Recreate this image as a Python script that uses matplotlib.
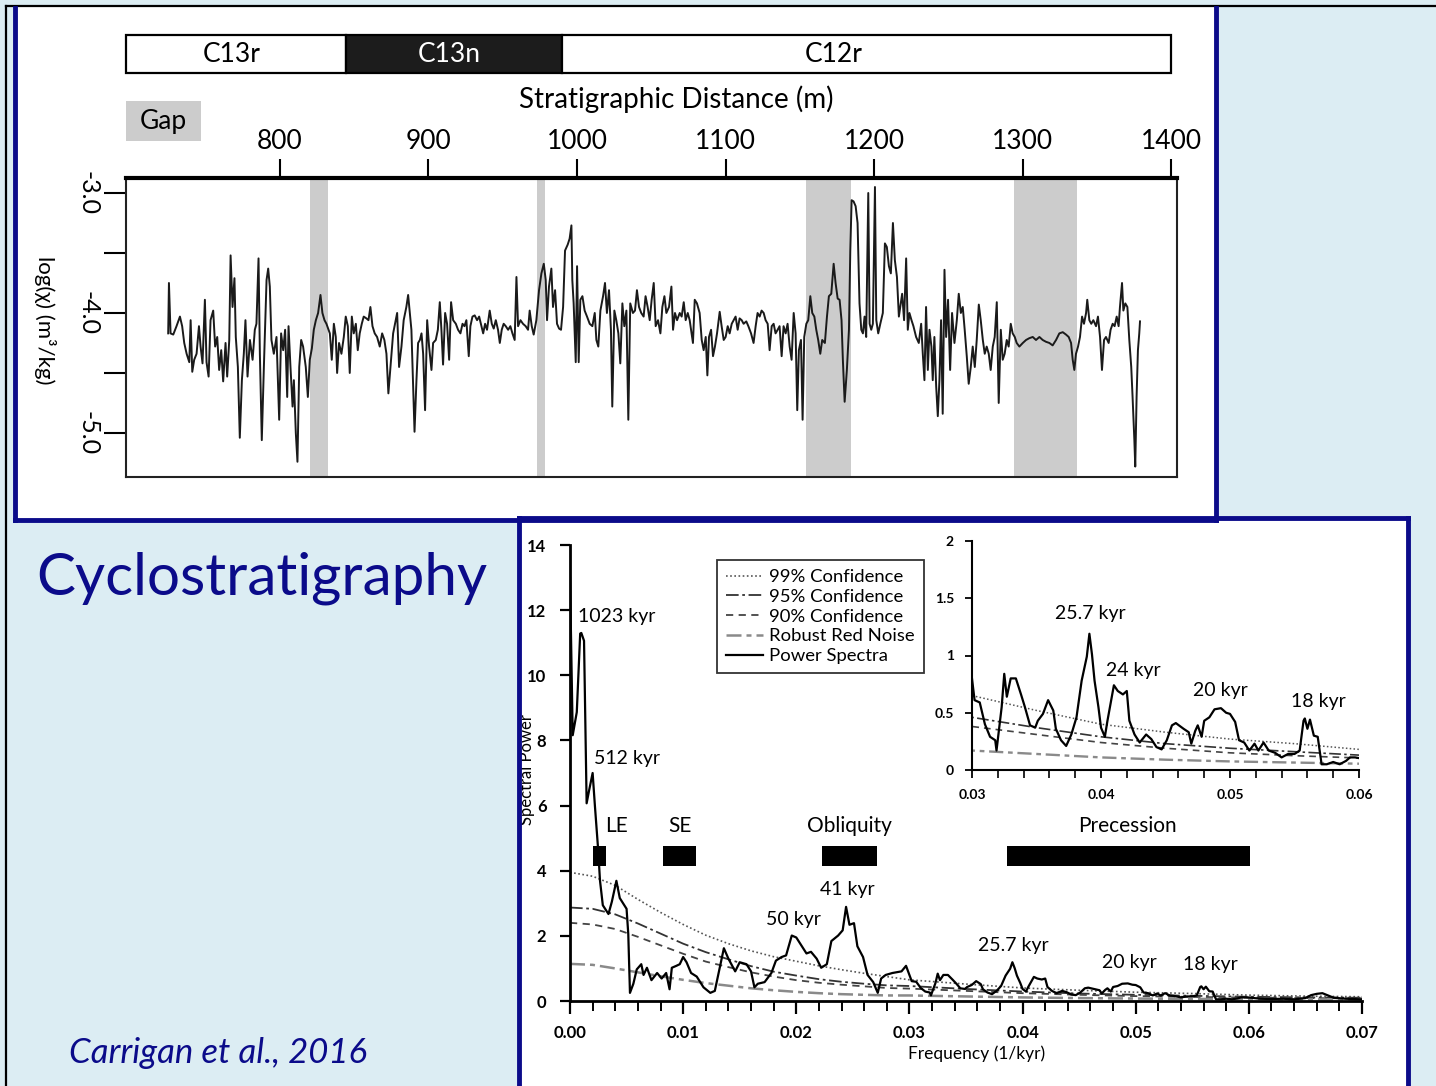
import numpy as np
import matplotlib
matplotlib.use("Agg")
import matplotlib.pyplot as plt
from matplotlib.patches import Rectangle
from matplotlib.lines import Line2D

plt.rcParams['font.family'] = ['Lato', 'DejaVu Sans']

# ---- top panel: magnetic susceptibility vs stratigraphic distance ----
depth_m = [
    724.8, 725.3, 726.4, 728.2, 730.4, 732.7, 734.2, 735.6, 737.2, 739.0,
    739.9, 741.0, 742.3, 743.9, 745.5, 746.6, 747.9, 749.5, 750.6, 752.0,
    753.3, 755.1, 756.4, 757.8, 759.1, 760.5, 761.8, 763.4, 764.5, 765.9,
    766.8, 768.1, 769.4, 770.3, 771.7, 773.0, 774.4, 775.7, 776.8, 778.2,
    779.8, 781.6, 783.1, 784.2, 785.6, 786.5, 787.8, 789.2, 791.0, 792.1,
    793.2, 794.3, 795.9, 797.7, 799.5, 800.8, 802.2, 803.5, 804.9, 805.8,
    807.1, 808.5, 809.4, 810.7, 811.8, 813.0, 814.3, 815.6, 817.4, 818.8,
    820.1, 821.5, 822.8, 824.2, 825.7, 827.3, 828.6, 830.0, 831.3, 833.6,
    834.9, 836.3, 837.6, 838.5, 839.8, 841.4, 843.0, 844.3, 845.7, 847.0,
    848.4, 849.7, 851.1, 852.4, 853.7, 855.1, 856.4, 858.2, 859.6, 860.9,
    862.3, 863.8, 865.4, 867.2, 868.8, 870.3, 871.7, 873.0, 874.4, 876.2,
    877.5, 878.9, 880.2, 881.8, 883.3, 885.1, 886.3,
    888.5, 889.7, 890.6, 891.9, 893.0, 894.2, 895.3, 896.4, 897.7, 899.1,
    900.4, 902.0, 903.1, 904.9, 906.3, 907.6, 908.7, 909.8, 911.2, 912.5,
    913.9, 915.2, 916.6, 918.4, 919.9, 921.5, 922.9, 924.2, 925.5, 927.1,
    928.2, 929.6, 931.1, 932.7, 934.1, 935.6, 936.8, 938.1, 939.4, 941.2,
    942.6, 943.9, 945.3, 946.8, 948.0, 949.3, 950.6, 952.0, 953.6, 955.1,
    956.5, 958.0, 959.2, 960.3, 961.9, 963.6, 965.4, 967.0, 968.1, 969.5,
    970.8, 972.6, 974.4, 976.0, 977.6, 978.9, 979.8, 981.1, 982.7, 983.8,
    985.2, 986.5, 987.9, 989.2, 990.6, 991.9, 993.7, 995.0, 996.2, 996.8,
    997.7, 999.1, 1000.0, 1001.1, 1002.2, 1003.6, 1005.1, 1006.7, 1008.5, 1010.3,
    1011.9, 1013.0, 1014.3, 1015.7, 1017.5, 1018.8, 1020.1, 1021.5, 1022.8, 1023.7,
    1025.1, 1026.4, 1027.8, 1029.1, 1030.5, 1031.8, 1033.2, 1034.5, 1035.8, 1037.6,
    1039.0, 1040.3, 1041.7, 1043.2, 1044.8, 1046.1, 1047.5,
    1048.9, 1050.2, 1051.6, 1052.9, 1054.5, 1056.1, 1057.4, 1058.8, 1060.1, 1061.9,
    1063.5, 1064.6, 1065.9, 1067.3, 1069.1, 1070.4, 1071.8, 1073.1, 1074.5, 1075.8,
    1077.1, 1078.0, 1079.2, 1080.7, 1082.5, 1083.9, 1085.2, 1086.6, 1087.7, 1088.8,
    1090.2, 1091.5, 1092.8, 1094.2, 1096.0, 1097.3, 1098.7, 1100.0, 1101.4, 1102.7,
    1104.1, 1105.4, 1106.7, 1108.1, 1109.4, 1110.8, 1112.1, 1113.9, 1115.3, 1117.1,
    1118.8, 1120.2, 1121.5, 1122.9, 1124.2, 1125.6, 1126.9, 1128.3, 1129.6, 1131.0,
    1132.3, 1133.6, 1135.0, 1136.3, 1137.7, 1139.0, 1140.4, 1141.7, 1143.1, 1144.4,
    1145.8, 1147.1, 1148.2, 1149.3, 1150.7, 1151.8, 1152.9, 1154.3, 1155.6, 1157.0,
    1158.3, 1159.7, 1161.0, 1162.3, 1163.7, 1165.0, 1166.8, 1168.2, 1169.5, 1171.1,
    1172.7, 1174.0, 1175.4, 1176.7, 1178.0, 1178.9, 1180.1, 1181.6, 1183.0, 1183.9,
    1184.8, 1186.1, 1187.5, 1188.8, 1190.1, 1191.3, 1192.4, 1193.5, 1194.6, 1196.0,
    1196.9, 1198.0, 1199.1, 1200.5, 1201.4, 1202.7, 1204.1, 1205.8, 1207.2, 1208.5,
    1209.9, 1211.2, 1212.6, 1213.9, 1215.3, 1216.6,
    1218.8, 1220.1, 1221.5, 1222.6, 1223.7, 1225.1, 1226.4, 1228.2, 1230.0, 1231.6,
    1232.7, 1233.8, 1234.9, 1236.1, 1237.2, 1238.5, 1239.4, 1240.5, 1241.7, 1242.8,
    1243.9, 1245.0, 1246.1, 1247.3, 1248.4, 1249.7, 1251.1, 1252.4, 1254.0, 1255.6,
    1256.9, 1258.3, 1259.6, 1260.9, 1262.3, 1263.6, 1265.0, 1266.3, 1267.7, 1269.0,
    1270.4, 1271.7, 1273.1, 1274.4, 1275.7, 1277.1, 1278.4, 1279.8, 1281.1, 1282.5,
    1283.8, 1285.2, 1286.5, 1287.8, 1289.2, 1290.5, 1291.9, 1293.2, 1294.6, 1295.9,
    1297.7, 1300.0, 1302.2, 1304.4, 1306.7, 1308.9, 1311.2, 1313.4, 1315.6, 1317.9,
    1320.1, 1322.4, 1324.6, 1326.9, 1329.1, 1330.9, 1332.5, 1333.6, 1334.7, 1335.8,
    1337.2, 1338.5, 1339.9, 1341.2, 1342.6, 1343.4, 1344.8, 1346.1, 1347.5, 1349.3,
    1350.6, 1352.0, 1353.3, 1354.7, 1356.0, 1357.8, 1359.1, 1360.5, 1361.8, 1363.2,
    1364.5, 1365.4, 1366.8, 1367.7, 1369.0, 1370.4, 1371.7, 1373.0, 1373.9, 1375.1,
    1375.7, 1376.6, 1377.5, 1378.4, 1378.9,
]
log_chi = [
    -4.17, -3.75, -4.17, -4.18, -4.11, -4.03, -4.11, -4.25, -4.34, -4.41,
    -4.06, -4.49, -4.39, -4.34, -4.11, -4.28, -4.42, -3.89, -4.41, -4.53,
    -4.06, -3.98, -4.28, -4.20, -4.475, -4.31, -4.57, -4.25, -4.53, -4.225,
    -3.52, -3.95, -3.71, -4.20, -4.45, -5.04, -4.56, -4.34, -4.06, -4.53,
    -4.225, -4.39, -4.14, -4.09, -3.545, -4.34, -5.06, -4.45, -3.725, -3.63,
    -3.78, -4.225, -4.34, -4.20, -4.89, -4.17, -4.31, -4.14, -4.70, -4.11,
    -4.45, -4.78, -4.56, -5.00, -5.24, -4.45, -4.225, -4.28, -4.45, -4.70,
    -4.39, -4.295, -4.14, -4.06, -4.00, -3.85, -4.00, -4.06, -4.09, -4.17,
    -4.39, -4.09, -4.20, -4.50, -4.25, -4.34, -4.20, -4.03, -4.11, -4.50,
    -4.03, -4.17, -4.09, -4.31, -4.17, -4.09, -4.03, -4.045, -4.06, -3.95,
    -4.11, -4.17, -4.20, -4.28, -4.17, -4.225, -4.34, -4.67, -4.45, -4.17,
    -4.09, -4.00, -4.45, -4.28, -4.06, -3.95, -3.85,
    -4.14, -4.61, -4.99, -4.56, -4.25, -4.225, -4.17, -4.34, -4.81, -4.06,
    -4.28, -4.475, -4.25, -4.225, -4.14, -3.91, -4.14, -4.43, -4.00, -4.09,
    -4.39, -3.91, -4.06, -4.09, -4.14, -4.17, -4.09, -4.11, -4.06, -4.36,
    -4.11, -4.03, -4.02, -4.06, -4.03, -4.11, -4.17, -4.09, -4.14, -3.98,
    -4.09, -4.13, -4.06, -4.14, -4.25, -4.14, -4.09, -4.11, -4.14, -4.11,
    -4.17, -4.225, -3.70, -4.11, -4.06, -4.09, -4.11, -4.14, -3.98, -4.11,
    -4.18, -4.06, -3.81, -3.67, -3.59, -3.725, -4.06, -3.78, -3.63, -3.95,
    -3.81, -4.09, -4.13, -4.14, -3.95, -3.48, -3.43, -3.38, -3.27, -3.725,
    -3.92, -4.41, -3.61, -4.41, -3.89, -3.86, -3.98, -4.03, -4.09, -4.11,
    -4.00, -4.225, -4.28, -3.98, -3.86, -3.75, -4.00, -3.81, -4.14, -4.78,
    -3.98, -4.06, -4.17, -4.42, -3.92, -4.11, -3.98, -4.89, -3.92, -4.00,
    -3.98, -3.81, -3.95, -4.00, -4.03, -3.86, -3.95,
    -4.06, -3.89, -3.75, -4.11, -4.06, -4.17, -3.95, -3.86, -4.00, -3.95,
    -3.78, -4.14, -4.00, -4.06, -4.00, -4.03, -3.91, -4.06, -4.00, -4.06,
    -4.17, -4.25, -3.89, -3.92, -4.00, -4.225, -4.31, -4.20, -4.52, -4.20,
    -4.14, -4.36, -4.28, -4.17, -3.99, -4.11, -4.225, -4.20, -4.11, -4.17,
    -4.09, -4.06, -4.03, -4.14, -4.045, -4.06, -4.09, -4.07, -4.11, -4.17,
    -4.25, -4.11, -4.00, -4.03, -3.98, -4.00, -4.06, -4.09, -4.31, -4.11,
    -4.09, -4.17, -4.14, -4.11, -4.36, -4.11, -4.17, -4.09, -4.28, -4.39,
    -4.00, -4.17, -4.81, -4.31, -4.225, -4.89, -4.20, -4.09, -4.06, -3.86,
    -4.00, -4.03, -4.14, -4.225, -4.34, -4.225, -4.25, -4.03, -3.86, -3.84,
    -3.59, -3.75, -3.88, -3.89, -4.06, -4.39, -4.74, -4.475, -4.14, -3.48,
    -3.06, -3.07, -3.11, -3.25, -3.92, -4.14, -4.17, -4.03, -4.20, -3.00,
    -4.09, -4.14, -4.09, -2.95, -4.06, -4.17, -4.09, -4.00, -3.42, -3.45,
    -3.61, -3.67, -3.25, -3.56, -3.70, -4.03,
    -3.84, -4.06, -3.545, -4.14, -4.00, -4.06, -4.11, -4.20, -4.25, -4.09,
    -4.34, -4.56, -3.95, -4.475, -4.14, -4.28, -4.56, -4.20, -4.61, -4.86,
    -4.56, -4.06, -4.84, -3.64, -4.20, -3.89, -4.475, -4.00, -4.25, -4.06,
    -3.84, -4.00, -3.95, -4.14, -4.36, -4.59, -4.45, -4.28, -4.45, -4.225,
    -3.93, -4.06, -4.225, -4.34, -4.28, -4.34, -4.475, -4.28, -4.20, -3.91,
    -4.75, -4.14, -4.39, -4.34, -4.225, -4.28, -4.09, -4.17, -4.20, -4.25,
    -4.28, -4.25, -4.225, -4.21, -4.20, -4.225, -4.20, -4.225, -4.24, -4.25,
    -4.27, -4.225, -4.17, -4.16, -4.18, -4.20, -4.25, -4.39, -4.475, -4.34,
    -4.28, -4.20, -4.03, -4.09, -4.00, -3.89, -4.06, -4.09, -4.06, -4.11,
    -4.03, -4.20, -4.475, -4.225, -4.20, -4.25, -4.14, -4.09, -4.11, -4.03,
    -4.11, -3.95, -3.75, -3.98, -3.92, -3.95, -4.225, -4.45, -4.70, -5.06,
    -5.28, -4.70, -4.31, -4.17, -4.07,
]

gap_start = [820.1, 972.8, 1154.4, 1294.2]
gap_end = [832.2, 978.2, 1184.6, 1336.6]

chron_names = ['C13r', 'C13n', 'C12r']
chron_start = [696.4, 844.4, 989.7]
chron_end = [844.4, 989.7, 1400.0]
chron_label_x = [767.7, 914.3, 1172.6]
chron_fill = ['white', '#1c1c1c', 'white']
chron_text = ['black', 'white', 'black']

dist_ticks = [800, 900, 1000, 1100, 1200, 1300, 1400]
chi_ticks = [-3.0, -3.5, -4.0, -4.5, -5.0]
chi_labels = ['-3.0', '', '-4.0', '', '-5.0']

# ---- bottom panel: power spectrum ----
spec_freq = [
    0.0000, 0.00024, 0.0006, 0.0009, 0.0010, 0.00124, 0.00132, 0.00147, 0.00168, 0.0020,
    0.0022, 0.0025, 0.00265, 0.0029, 0.0034, 0.0037, 0.0041, 0.0044, 0.0049, 0.0050,
    0.00515, 0.0053, 0.0056, 0.0059, 0.0063, 0.0065, 0.0068, 0.0072, 0.0077, 0.0081,
    0.0085, 0.0088, 0.0090, 0.0094, 0.0097, 0.0100, 0.0103, 0.0107, 0.0112, 0.0118,
    0.0124, 0.0128, 0.0132, 0.0136, 0.0140, 0.0146, 0.0150, 0.0156, 0.0160, 0.0163,
    0.0166, 0.0172, 0.0178, 0.0182, 0.0187, 0.0191, 0.0196, 0.0200, 0.0205, 0.0209,
    0.0213, 0.0218, 0.0222, 0.0227, 0.0231, 0.0237, 0.0241, 0.0244, 0.0247, 0.0251,
    0.0254, 0.0259, 0.0263, 0.0268, 0.0272, 0.0275, 0.0279, 0.0285, 0.0293, 0.0297,
    0.0300, 0.0302, 0.0306, 0.0310, 0.0314, 0.0318, 0.0319, 0.0323, 0.0325, 0.0327,
    0.0330, 0.0334, 0.0338, 0.0341, 0.0345, 0.0349, 0.0351, 0.0355, 0.0359, 0.0363,
    0.0365, 0.0369, 0.0373, 0.0377, 0.0381, 0.0385, 0.0389, 0.0391, 0.0393, 0.0395,
    0.0398, 0.0400, 0.0403, 0.0405, 0.0410, 0.0413, 0.0417, 0.0420, 0.0422, 0.0426,
    0.0430, 0.0435, 0.0439, 0.0443, 0.0447, 0.0451, 0.0455, 0.0458, 0.0464, 0.0468,
    0.0470, 0.0473, 0.0475, 0.0478, 0.0480, 0.0484, 0.0488, 0.0493, 0.0497, 0.0500,
    0.0504, 0.0507, 0.0511, 0.0515, 0.0519, 0.0522, 0.0526, 0.0530, 0.0535, 0.0540,
    0.0545, 0.0550, 0.0554, 0.0557, 0.0558, 0.0560, 0.0562, 0.0565, 0.0568, 0.0571,
    0.0575, 0.0580, 0.0585, 0.0590, 0.0593, 0.0597, 0.0602, 0.0610, 0.0620, 0.0630,
    0.0640, 0.0650, 0.0655, 0.0660, 0.0665, 0.0670, 0.0675, 0.0685, 0.0700,
]
spec_power = [
    13.0, 8.16, 8.87, 11.28, 11.3, 11.06, 9.3, 6.07, 6.45, 7.0,
    6.0, 4.59, 3.7, 2.94, 2.67, 3.05, 3.69, 3.16, 2.89, 2.83,
    2.06, 0.25, 0.53, 0.97, 1.13, 0.8, 1.02, 0.64, 0.86, 0.69,
    0.86, 0.36, 1.02, 1.08, 1.13, 1.35, 1.19, 0.86, 0.75, 0.42,
    0.25, 0.31, 0.97, 1.62, 1.3, 0.91, 1.19, 1.13, 0.91, 0.42,
    0.53, 0.58, 0.86, 1.24, 1.35, 1.4, 2.01, 1.95, 1.68, 1.46,
    1.51, 1.3, 1.02, 1.13, 1.84, 2.01, 2.17, 2.89, 2.34, 2.39,
    1.68, 1.35, 0.8, 0.58, 0.25, 0.69, 0.8, 0.86, 0.91, 1.08,
    0.80, 0.61, 0.59, 0.40, 0.29, 0.26, 0.17, 0.55, 0.84, 0.64,
    0.80, 0.80, 0.66, 0.55, 0.39, 0.37, 0.43, 0.49, 0.61, 0.52,
    0.36, 0.26, 0.21, 0.31, 0.46, 0.78, 0.99, 1.19, 1.01, 0.78,
    0.55, 0.37, 0.29, 0.43, 0.74, 0.69, 0.66, 0.69, 0.43, 0.31,
    0.24, 0.31, 0.27, 0.20, 0.18, 0.26, 0.39, 0.41, 0.36, 0.33,
    0.23, 0.34, 0.39, 0.29, 0.43, 0.46, 0.53, 0.54, 0.50, 0.49,
    0.42, 0.26, 0.24, 0.17, 0.23, 0.17, 0.24, 0.17, 0.15, 0.11,
    0.14, 0.14, 0.17, 0.43, 0.45, 0.36, 0.44, 0.30, 0.29, 0.05,
    0.05, 0.07, 0.05, 0.08, 0.11, 0.11, 0.10, 0.07, 0.06, 0.07,
    0.05, 0.09, 0.18, 0.22, 0.24, 0.17, 0.10, 0.07, 0.05,
]

conf_freq = [0.000, 0.002, 0.004, 0.006, 0.008, 0.010, 0.012, 0.014, 0.016, 0.018,
             0.020, 0.022, 0.024, 0.026, 0.028, 0.030, 0.035, 0.040, 0.045, 0.050,
             0.055, 0.060, 0.065, 0.070]
conf_99 = [3.95, 3.83, 3.55, 3.12, 2.72, 2.35, 2.02, 1.76, 1.54, 1.36,
           1.22, 1.08, 0.96, 0.85, 0.75, 0.65, 0.52, 0.40, 0.33, 0.27,
           0.23, 0.18, 0.15, 0.13]
conf_95 = [2.87, 2.83, 2.66, 2.38, 2.07, 1.76, 1.50, 1.28, 1.07, 0.90,
           0.78, 0.67, 0.59, 0.53, 0.48, 0.46, 0.37, 0.29, 0.23, 0.19,
           0.16, 0.13, 0.11, 0.10]
conf_90 = [2.40, 2.35, 2.21, 1.97, 1.71, 1.45, 1.21, 1.04, 0.88, 0.75,
           0.64, 0.56, 0.50, 0.45, 0.40, 0.38, 0.31, 0.24, 0.19, 0.15,
           0.125, 0.105, 0.09, 0.08]
red_noise = [1.14, 1.11, 1.00, 0.88, 0.76, 0.65, 0.55, 0.47, 0.39, 0.33,
             0.28, 0.24, 0.21, 0.19, 0.17, 0.17, 0.14, 0.11, 0.09, 0.075,
             0.065, 0.055, 0.05, 0.045]

band_names = ['LE', 'SE', 'Obliquity', 'Precession']
band_lo = [0.00203, 0.00822, 0.02227, 0.03862]
band_hi = [0.00318, 0.01114, 0.02713, 0.06010]
band_label_x = [0.00415, 0.00972, 0.02466, 0.04923]

peak_labels = ['1023 kyr', '512 kyr', '50 kyr', '41 kyr', '25.7 kyr', '20 kyr', '18 kyr']
peak_x = [0.0007, 0.0021, 0.0173, 0.0221, 0.0361, 0.0470, 0.0542]
peak_y = [11.79, 7.43, 2.49, 3.41, 1.69, 1.17, 1.11]

inset_labels = ['25.7 kyr', '24 kyr', '20 kyr', '18 kyr']
inset_x = [0.03643, 0.04039, 0.04713, 0.05473]
inset_y = [1.37, 0.865, 0.69, 0.60]

freq_ticks = [0.00, 0.01, 0.02, 0.03, 0.04, 0.05, 0.06, 0.07]
power_ticks = [0, 2, 4, 6, 8, 10, 12, 14]
inset_xticks = [0.03, 0.04, 0.05, 0.06]
inset_yticks = [0, 0.5, 1, 1.5, 2]
inset_ylabels = ['0', '0.5', '1', '1.5', '2']

# ---- figure / slide layout ----
W, H = 1436, 1086
fig = plt.figure(figsize=(W / 100, H / 100), dpi=100)
fig.patch.set_facecolor('#dcedf3')
navy = '#0b0b8a'


def fx(px):
    return px / W


def fy(py):
    return 1 - py / H


def fig_line(x0, y0, x1, y1, color, lw, z=5):
    fig.add_artist(Line2D([fx(x0), fx(x1)], [fy(y0), fy(y1)], transform=fig.transFigure,
                          color=color, lw=lw, zorder=z, solid_capstyle='projecting'))


def fig_box(x0, y0, x1, y1, color, z=-5):
    fig.add_artist(Rectangle((fx(x0), fy(y1)), fx(x1) - fx(x0), fy(y0) - fy(y1),
                             transform=fig.transFigure, facecolor=color,
                             edgecolor='none', zorder=z))


# white panels
fig_box(15, 7, 1216, 520, 'white')
fig_box(519, 518, 1408, 1090, 'white')
# outer black frame
fig_line(6, 6, 1436, 6, 'black', 1.6)
fig_line(6, 6, 6, 1086, 'black', 1.6)
# navy panel borders
fig_line(15, 8, 15, 520, navy, 3.5)
fig_line(1216, 8, 1216, 520, navy, 3.5)
fig_line(15, 520, 1216, 520, navy, 3.5)
fig_line(519, 518, 1408, 518, navy, 3.5)
fig_line(519, 518, 519, 1086, navy, 3.5)
fig_line(1408, 518, 1408, 1086, navy, 3.5)

fig.text(fx(36), fy(578), 'Cyclostratigraphy', color=navy, fontsize=42,
         ha='left', va='center')
fig.text(fx(69), fy(1053), 'Carrigan et al., 2016', color=navy, fontsize=25,
         style='italic', ha='left', va='center')

# ---- top chart ----
ax = fig.add_axes([fx(126), fy(477), fx(1177) - fx(126), fy(178) - fy(477)])
ax.set_xlim(696.4, 1403.8)
ax.set_ylim(-5.367, -2.875)
for s, e in zip(gap_start, gap_end):
    ax.axvspan(s, e, color='#cccccc', lw=0, zorder=0)
ax.plot(depth_m, log_chi, color='#1a1a1a', lw=1.4, zorder=2)
ax.xaxis.tick_top()
ax.set_xticks(dist_ticks)
ax.tick_params(axis='x', direction='out', length=14, width=1.5, labelsize=19, pad=3)
ax.set_yticks(chi_ticks)
ax.set_yticklabels(chi_labels, rotation=270, va='center')
ax.tick_params(axis='y', direction='out', length=16, width=1.5, labelsize=18, pad=3)
for side in ['left', 'right', 'bottom']:
    ax.spines[side].set_linewidth(1.5)
    ax.spines[side].set_color('#222222')
ax.spines['top'].set_linewidth(3)
fig.text(fx(676), fy(99), 'Stratigraphic Distance (m)', fontsize=20, ha='center', va='center')
fig.text(fx(45), fy(320), 'log(χ) (m³/kg)', fontsize=16, rotation=270,
         ha='center', va='center')

# chron bar
axc = fig.add_axes([fx(126), fy(73), fx(1177) - fx(126), fy(35) - fy(73)])
axc.set_xlim(ax.get_xlim())
axc.set_ylim(0, 1)
axc.axis('off')
for s, e, c in zip(chron_start, chron_end, chron_fill):
    axc.add_patch(Rectangle((s, 0), e - s, 1, facecolor=c, edgecolor='black',
                            lw=1.6, clip_on=False))
for name, lx, tc in zip(chron_names, chron_label_x, chron_text):
    axc.text(lx, 0.5, name, color=tc, fontsize=19, ha='center', va='center')

# gap key
fig_box(126, 101, 201, 141, '#cccccc', z=1)
fig.text(fx(163), fy(121), 'Gap', fontsize=19, ha='center', va='center')

# ---- spectrum ----
axs = fig.add_axes([fx(570), fy(1001), fx(1362) - fx(570), fy(545) - fy(1001)])
axs.patch.set_alpha(0)
axs.set_xlim(0, 0.07)
axs.set_ylim(0, 14)
l99, = axs.plot(conf_freq, conf_99, color='#555555', lw=1.2, ls=(0, (1, 1.5)))
l95, = axs.plot(conf_freq, conf_95, color='#333333', lw=1.3, ls=(0, (7, 2, 1.5, 2)))
l90, = axs.plot(conf_freq, conf_90, color='#444444', lw=1.3, ls=(0, (4, 3)))
lrn, = axs.plot(conf_freq, red_noise, color='#8a8a8a', lw=1.8, ls=(0, (6, 2, 2, 2)))
lps, = axs.plot(spec_freq, spec_power, color='black', lw=1.6)
for lo, hi in zip(band_lo, band_hi):
    axs.broken_barh([(lo, hi - lo)], (4.15, 0.6), facecolor='black', zorder=4)
for name, bx in zip(band_names, band_label_x):
    axs.text(bx, 5.37, name, fontsize=15, ha='center', va='center')
for lab, px_, py_ in zip(peak_labels, peak_x, peak_y):
    axs.text(px_, py_, lab, fontsize=14, ha='left', va='center')
for side in ['top', 'right']:
    axs.spines[side].set_visible(False)
for side in ['left', 'bottom']:
    axs.spines[side].set_linewidth(2)
axs.set_xticks(freq_ticks)
axs.set_xticklabels(['%.2f' % t for t in freq_ticks])
axs.set_xticks(np.arange(0, 0.0701, 0.002), minor=True)
axs.set_yticks(power_ticks)
axs.tick_params(axis='x', which='major', length=9, width=1.6, labelsize=12, pad=8)
axs.tick_params(axis='x', which='minor', length=7, width=1.4)
axs.tick_params(axis='y', length=7, width=1.6, labelsize=12, pad=10)
for t in axs.get_xticklabels() + axs.get_yticklabels():
    t.set_fontweight('bold')
fig.text(fx(977), fy(1054), 'Frequency (1/kyr)', fontsize=12.5, ha='center', va='center')
fig.text(fx(527), fy(770), 'Spectral Power', fontsize=12, rotation=90,
         ha='center', va='center')

leg = axs.legend([l99, l95, l90, lrn, lps],
                 ['99% Confidence', '95% Confidence', '90% Confidence',
                  'Robust Red Noise', 'Power Spectra'],
                 loc='upper left', bbox_to_anchor=(fx(717), fy(560)),
                 bbox_transform=fig.transFigure, frameon=True, fancybox=False,
                 edgecolor='black', fontsize=13.3, handlelength=2.0,
                 handletextpad=0.3, labelspacing=0.2, borderpad=0.5,
                 borderaxespad=0)
leg.get_frame().set_linewidth(1.3)

# ---- inset ----
axi = fig.add_axes([fx(972), fy(770), fx(1359) - fx(972), fy(541) - fy(770)])
axi.set_xlim(0.03, 0.06)
axi.set_ylim(0, 2)
axi.plot(conf_freq, conf_99, color='#555555', lw=1.1, ls=(0, (1, 1.5)))
axi.plot(conf_freq, conf_95, color='#333333', lw=1.2, ls=(0, (7, 2, 1.5, 2)))
axi.plot(conf_freq, conf_90, color='#444444', lw=1.2, ls=(0, (4, 3)))
axi.plot(conf_freq, red_noise, color='#8a8a8a', lw=1.7, ls=(0, (6, 2, 2, 2)))
axi.plot(spec_freq, spec_power, color='black', lw=1.6)
for lab, px_, py_ in zip(inset_labels, inset_x, inset_y):
    axi.text(px_, py_, lab, fontsize=14, ha='left', va='center')
for side in ['top', 'right']:
    axi.spines[side].set_visible(False)
for side in ['left', 'bottom']:
    axi.spines[side].set_linewidth(1.5)
axi.set_xticks(inset_xticks)
axi.set_xticklabels(['%.2f' % t for t in inset_xticks])
axi.set_xticks(np.arange(0.03, 0.0601, 0.002), minor=True)
axi.set_yticks(inset_yticks)
axi.set_yticklabels(inset_ylabels)
axi.tick_params(axis='x', which='major', length=6, width=1.3, labelsize=10, pad=8)
axi.tick_params(axis='x', which='minor', length=6, width=1.2)
axi.tick_params(axis='y', length=5, width=1.3, labelsize=10, pad=8)
for t in axi.get_xticklabels() + axi.get_yticklabels():
    t.set_fontweight('bold')

fig.savefig('out.png', dpi=100, facecolor=fig.get_facecolor())
